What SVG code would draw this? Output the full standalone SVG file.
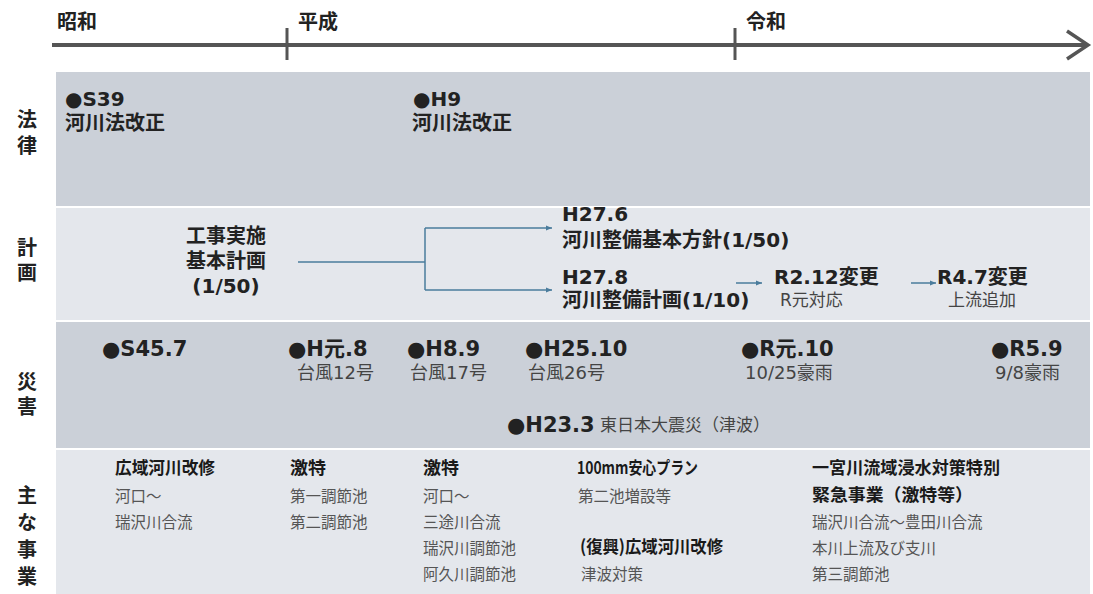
<svg xmlns="http://www.w3.org/2000/svg" width="1093" height="594" viewBox="0 0 1093 594">
<defs>
<style>
text{font-family:"DejaVu Sans","Noto Sans CJK JP",sans-serif;}
.era{font-size:20px;font-weight:bold;fill:#222;font-family:"Noto Sans CJK JP",sans-serif;}
.cat{font-size:20px;font-weight:bold;fill:#222;font-family:"Noto Sans CJK JP",sans-serif;writing-mode:vertical-rl;}
.b{font-size:20px;font-weight:bold;fill:#222;}
.d{font-size:21px;font-weight:bold;fill:#222;}
.r{font-size:18px;fill:#444;}
.s{font-size:17px;fill:#444;}
.h{font-size:17.5px;font-weight:bold;fill:#1a1a1a;font-family:"Noto Sans CJK JP",sans-serif;}
.t{font-size:15.5px;fill:#555;font-family:"Noto Sans CJK JP",sans-serif;}
.dark{fill:#cbd0d8;}
.light{fill:#e4e7ec;}
.conn{stroke:#4a7c9c;stroke-width:1.5;fill:none;}
</style>
<marker id="ah" markerWidth="8" markerHeight="8" refX="6" refY="4" orient="auto" markerUnits="userSpaceOnUse">
<path d="M0,1.5 L6,4 L0,6.5 Z" fill="#4a7c9c"/>
</marker>
</defs>
<rect width="1093" height="594" fill="#ffffff"/>

<g id="timeline">
<line x1="52" y1="45" x2="1087" y2="45" stroke="#555" stroke-width="4"/>
<path d="M1067,31 L1088,45 L1067,59" stroke="#555" stroke-width="3.5" fill="none"/>
<line x1="287" y1="28" x2="287" y2="60" stroke="#555" stroke-width="3"/>
<line x1="735" y1="28" x2="735" y2="60" stroke="#555" stroke-width="3"/>
<text class="era" x="57" y="29">昭和</text>
<text class="era" x="298" y="29">平成</text>
<text class="era" x="746" y="29">令和</text>
</g>

<g id="bands">
<rect class="dark" x="56" y="72" width="1034" height="134"/>
<rect class="light" x="56" y="208" width="1034" height="112"/>
<rect class="dark" x="56" y="322" width="1034" height="126"/>
<rect class="light" x="56" y="450" width="1034" height="144"/>
</g>

<g id="labels">
<text class="cat" x="27" y="109" letter-spacing="6">法律</text>
<text class="cat" x="27" y="237" letter-spacing="5">計画</text>
<text class="cat" x="27" y="371" letter-spacing="5">災害</text>
<text class="cat" x="27" y="485" letter-spacing="7">主な事業</text>
</g>

<g id="law-S39">
<text class="b" x="65" y="106">●S39</text>
<text class="b" x="65" y="130">河川法改正</text>
</g>
<g id="law-H9">
<text class="b" x="413" y="106">●H9</text>
<text class="b" x="412" y="130">河川法改正</text>
</g>

<g id="plan-kouji">
<text class="b" x="226" y="243" text-anchor="middle">工事実施</text>
<text class="b" x="226" y="268" text-anchor="middle">基本計画</text>
<text class="b" x="226" y="293" text-anchor="middle">(1/50)</text>
</g>
<g id="plan-H27-6">
<text class="b" x="562" y="221">H27.6</text>
<text class="b" x="562" y="247">河川整備基本方針(1/50)</text>
</g>
<g id="plan-H27-8">
<text class="b" x="562" y="284">H27.8</text>
<text class="b" x="562" y="307">河川整備計画(1/10)</text>
</g>
<g id="plan-R2-12">
<text class="b" x="774" y="284">R2.12変更</text>
<text class="s" x="780" y="306">R元対応</text>
</g>
<g id="plan-R4-7">
<text class="b" x="937" y="284">R4.7変更</text>
<text class="s" x="948" y="306">上流追加</text>
</g>

<g id="connectors">
<path class="conn" d="M298,262 L425,262"/>
<path class="conn" d="M425,228 L425,290"/>
<path class="conn" d="M425,228 L552,228" marker-end="url(#ah)"/>
<path class="conn" d="M425,290 L552,290" marker-end="url(#ah)"/>
<path class="conn" d="M736,283 L762,283" marker-end="url(#ah)"/>
<path class="conn" d="M911,283 L936,283" marker-end="url(#ah)"/>
</g>

<g id="dis-S45-7"><text class="d" x="102" y="356">●S45.7</text></g>
<g id="dis-H1-8">
<text class="d" x="288" y="356">●H元.8</text>
<text class="r" x="297" y="379">台風12号</text>
</g>
<g id="dis-H8-9">
<text class="d" x="407" y="356">●H8.9</text>
<text class="r" x="410" y="379">台風17号</text>
</g>
<g id="dis-H25-10">
<text class="d" x="525" y="356">●H25.10</text>
<text class="r" x="528" y="379">台風26号</text>
</g>
<g id="dis-R1-10">
<text class="d" x="741" y="356">●R元.10</text>
<text class="r" x="745" y="379">10/25豪雨</text>
</g>
<g id="dis-R5-9">
<text class="d" x="991" y="356">●R5.9</text>
<text class="r" x="995" y="379">9/8豪雨</text>
</g>
<g id="dis-H23-3">
<text class="d" x="507" y="432">●H23.3</text>
<text class="s" x="600" y="431">東日本大震災（津波）</text>
</g>

<g id="proj-1">
<text class="h" x="115" y="474" textLength="100" lengthAdjust="spacingAndGlyphs">広域河川改修</text>
<text class="t" x="115" y="502">河口～</text>
<text class="t" x="115" y="528">瑞沢川合流</text>
</g>
<g id="proj-2">
<text class="h" x="290" y="474" textLength="36" lengthAdjust="spacingAndGlyphs">激特</text>
<text class="t" x="290" y="502">第一調節池</text>
<text class="t" x="290" y="528">第二調節池</text>
</g>
<g id="proj-3">
<text class="h" x="423" y="474" textLength="36" lengthAdjust="spacingAndGlyphs">激特</text>
<text class="t" x="423" y="502">河口～</text>
<text class="t" x="423" y="528">三途川合流</text>
<text class="t" x="423" y="554">瑞沢川調節池</text>
<text class="t" x="423" y="580">阿久川調節池</text>
</g>
<g id="proj-4">
<text class="h" x="577" y="474" textLength="121" lengthAdjust="spacingAndGlyphs">100mm安心プラン</text>
<text class="t" x="578" y="502">第二池増設等</text>
</g>
<g id="proj-5">
<text class="h" x="580" y="553" textLength="143" lengthAdjust="spacingAndGlyphs">(復興)広域河川改修</text>
<text class="t" x="581" y="580">津波対策</text>
</g>
<g id="proj-6">
<text class="h" x="812" y="474" textLength="188" lengthAdjust="spacingAndGlyphs">一宮川流域浸水対策特別</text>
<text class="h" x="812" y="501" textLength="161" lengthAdjust="spacingAndGlyphs">緊急事業（激特等）</text>
<text class="t" x="812" y="528">瑞沢川合流～豊田川合流</text>
<text class="t" x="812" y="554">本川上流及び支川</text>
<text class="t" x="812" y="580">第三調節池</text>
</g>
</svg>
